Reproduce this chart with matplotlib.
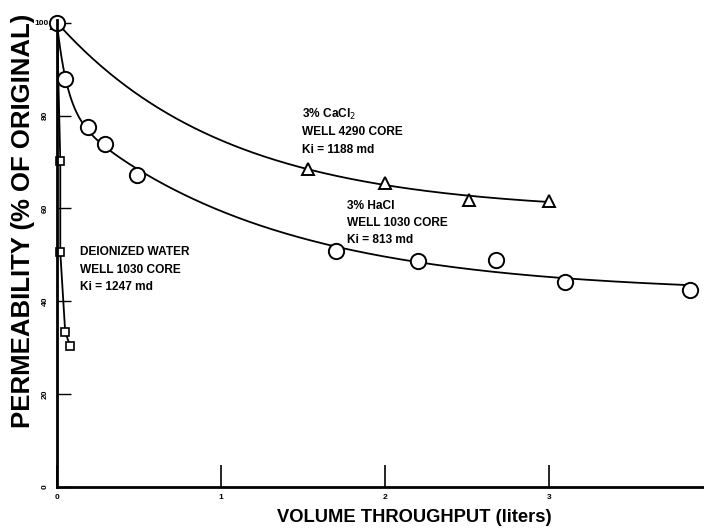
import numpy as np
import matplotlib
matplotlib.use("Agg")
import matplotlib.pyplot as plt

# ---- data ----
cacl2_x = [0.0, 1.53, 2.0, 2.51, 3.0]
cacl2_y = [100.0, 68.6, 65.5, 61.9, 61.7]

nacl_x = [0.0, 0.05, 0.19, 0.29, 0.49, 1.70, 2.20, 2.68, 3.10, 3.86]
nacl_y = [100.0, 87.9, 77.6, 73.9, 67.2, 50.9, 48.7, 48.9, 44.2, 42.5]

water_x = [0.0, 0.02, 0.02, 0.05, 0.08]
water_y = [100.0, 70.3, 50.6, 33.4, 30.4]

x_ticks = [0, 1, 2, 3]
y_ticks = [0, 20, 40, 60, 80, 100]


def fit_exp(x, y, n_terms, xs):
    """Least-squares fit of y = a + sum b_i exp(-c_i x) (grid search on c)."""
    x = np.asarray(x); y = np.asarray(y)
    rates = np.geomspace(0.05, 60, 80)
    best = None
    if n_terms == 1:
        combos = [(c,) for c in rates]
    else:
        combos = [(c1, c2) for i, c1 in enumerate(rates) for c2 in rates[i + 1:]]
    for cs in combos:
        A = np.column_stack([np.ones_like(x)] + [np.exp(-c * x) for c in cs])
        coef, *_ = np.linalg.lstsq(A, y, rcond=None)
        err = np.sum((A @ coef - y) ** 2)
        if best is None or err < best[0]:
            best = (err, cs, coef)
    _, cs, coef = best
    B = np.column_stack([np.ones_like(xs)] + [np.exp(-c * xs) for c in cs])
    return B @ coef


fig = plt.figure(figsize=(7.04, 5.29), dpi=100)
ax = fig.add_axes([57 / 704, 1 - 487 / 529, (703 - 57) / 704, (487 - 20) / 529])
ax.set_xlim(0, 3.94)
ax.set_ylim(0, 100.6)

# fitted curves
xs1 = np.linspace(0, max(cacl2_x), 300)
ax.plot(xs1, fit_exp(cacl2_x, cacl2_y, 1, xs1), color="black", lw=1.3)
xs2 = np.linspace(0, max(nacl_x), 400)
ax.plot(xs2, fit_exp(nacl_x, nacl_y, 2, xs2), color="black", lw=1.3)
ax.plot(water_x, water_y, color="black", lw=1.3)

# markers
ax.plot(cacl2_x, cacl2_y, linestyle="none", marker="^", ms=8, mfc="white",
        mec="black", mew=1.4, clip_on=False)
ax.plot(nacl_x, nacl_y, linestyle="none", marker="o", ms=11, mfc="white",
        mec="black", mew=1.4, clip_on=False)
ax.plot(water_x[1:], water_y[1:], linestyle="none", marker="s", ms=6, mfc="white",
        mec="black", mew=1.2, clip_on=False)

# axes styling
for s in ["top", "right"]:
    ax.spines[s].set_visible(False)
for s in ["left", "bottom"]:
    ax.spines[s].set_linewidth(2.0)
ax.set_xticks(x_ticks)
ax.set_yticks(y_ticks)
ax.tick_params(axis="x", direction="in", length=16, width=1.2, pad=5, labelsize=6)
ax.tick_params(axis="y", direction="in", length=10, width=1.0, pad=6, labelsize=6)
for lab in ax.get_xticklabels() + ax.get_yticklabels():
    lab.set_fontweight("bold")
    lab.set_family("Liberation Sans")
for lab in ax.get_yticklabels():
    if lab.get_text() != "100":
        lab.set_rotation(90)
        lab.set_va("center")

fig.text(414 / 704, 1 - 518 / 529, "VOLUME THROUGHPUT (liters)", ha="center",
         va="center", fontsize=13.2, fontweight="bold", family="Liberation Sans")
fig.text(23 / 704, 1 - 221 / 529, "PERMEABILITY (% OF ORIGINAL)", ha="center",
         va="center", rotation=90, fontsize=18.5, fontweight="bold",
         family="Liberation Sans")

ann = dict(family="Liberation Sans", fontweight="bold", fontsize=8.6,
           ha="left", va="center", color="black")


def ptext(px, py, s):
    fig.text(px / 704, 1 - py / 529, s, **ann)


ptext(302, 114, r"3% CaCl$_2$")
ptext(302, 132, "WELL 4290 CORE")
ptext(302, 150, "Ki = 1188 md")

ptext(347, 206, "3% HaCl")
ptext(347, 223, "WELL 1030 CORE")
ptext(347, 240, "Ki = 813 md")

ptext(80, 252, "DEIONIZED WATER")
ptext(80, 270, "WELL 1030 CORE")
ptext(80, 287, "Ki = 1247 md")

fig.savefig("out.png", dpi=100)
